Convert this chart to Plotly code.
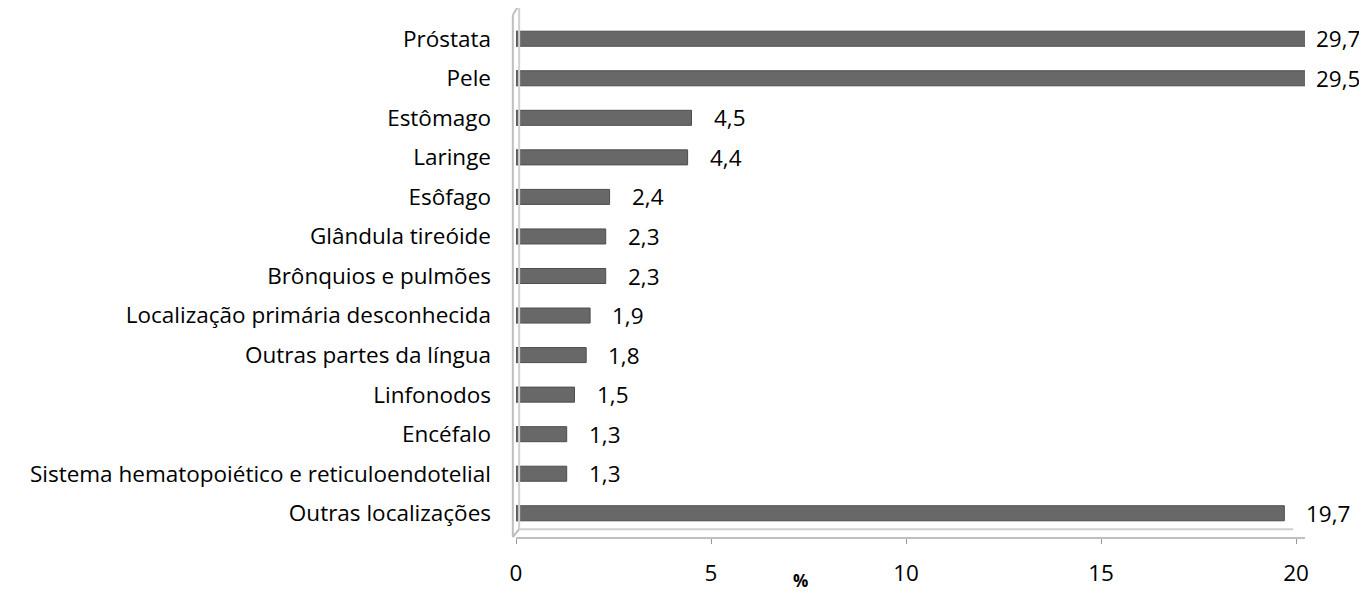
import plotly.graph_objects as go

categories = ["Próstata", "Pele", "Estômago", "Laringe", "Esôfago", "Glândula tireóide",
              "Brônquios e pulmões", "Localização primária desconhecida", "Outras partes da língua",
              "Linfonodos", "Encéfalo", "Sistema hematopoiético e reticuloendotelial", "Outras localizações"]
values = [29.7, 29.5, 4.5, 4.4, 2.4, 2.3, 2.3, 1.9, 1.8, 1.5, 1.3, 1.3, 19.7]
labels = ["29,7", "29,5", "4,5", "4,4", "2,4", "2,3", "2,3", "1,9", "1,8", "1,5", "1,3", "1,3", "19,7"]
x_ticks = [0, 5, 10, 15, 20]
x_max = 20.23

FONT = "Open Sans"
FS = 22.5

fig = go.Figure()
fig.add_trace(go.Bar(
    y=categories, x=values, orientation="h", width=0.38,
    marker=dict(color="#686868", line=dict(color="#4d4d4d", width=1)),
    showlegend=False, hoverinfo="skip",
))

annotations = []
for c, v, t in zip(categories, values, labels):
    clipped = v > x_max
    annotations.append(dict(
        x=min(v, x_max), y=c, xref="x", yref="y", text=t, showarrow=False,
        xanchor="left", yanchor="middle", xshift=9 if clipped else 20,
        font=dict(family=FONT, size=FS, color="#000000"),
    ))

annotations.append(dict(
    x=0.36, y=-0.084, xref="paper", yref="paper", text="<b>%</b>", showarrow=False,
    xanchor="center", yanchor="middle", font=dict(family=FONT, size=17, color="#000000"),
))

shapes = [
    dict(type="line", xref="paper", yref="paper", x0=-0.004, x1=-0.004, y0=0.0, y1=1.0,
         line=dict(color="#bfbfbf", width=2)),
    dict(type="line", xref="paper", yref="paper", x0=0.004, x1=0.004, y0=0.015, y1=1.02,
         line=dict(color="#d0d0d0", width=2)),
    dict(type="line", xref="paper", yref="paper", x0=-0.004, x1=0.004, y0=1.0, y1=1.02,
         line=dict(color="#bfbfbf", width=2)),
    dict(type="line", xref="paper", yref="paper", x0=0.004, x1=0.985, y0=0.015, y1=0.015,
         line=dict(color="#d0d0d0", width=2)),
    dict(type="line", xref="paper", yref="paper", x0=-0.004, x1=0.004, y0=0.0, y1=0.015,
         line=dict(color="#bfbfbf", width=2)),
]

# page body has an 8px margin; compensate
fig.update_layout(
    width=1359, height=587,
    margin=dict(l=508, r=62, t=7, b=58),
    paper_bgcolor="white", plot_bgcolor="white",
    font=dict(family=FONT, size=FS, color="#000000"),
    annotations=annotations,
    shapes=shapes,
)
fig.update_xaxes(
    range=[0, x_max], tickvals=x_ticks, ticktext=[str(t) for t in x_ticks],
    showgrid=False, zeroline=False, showline=True, linecolor="#bfbfbf", linewidth=2,
    ticks="outside", ticklen=5, tickcolor="#999999", ticklabelstandoff=10,
    tickfont=dict(family=FONT, size=FS, color="#000000"),
)
fig.update_yaxes(
    categoryorder="array", categoryarray=categories, autorange=False, range=[12.6, -0.6],
    showgrid=False, zeroline=False, showline=False, ticks="",
    ticklabelstandoff=24, tickfont=dict(family=FONT, size=FS, color="#000000"),
)

fig.write_html("out.html")
